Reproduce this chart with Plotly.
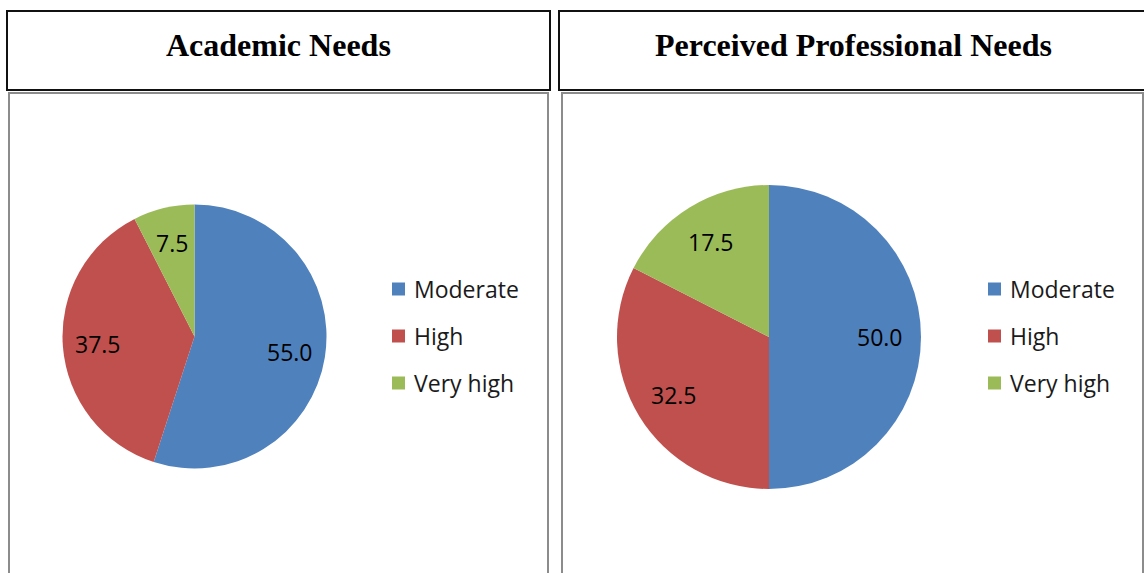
import math
import plotly.graph_objects as go

# Figure size in pixels
W, H = 1144, 573

# ---- data ----
categories = ["Moderate", "High", "Very high"]
academic_needs = [55.0, 37.5, 7.5]
professional_needs = [50.0, 32.5, 17.5]
panel_titles = ["Academic Needs", "Perceived Professional Needs"]
slice_colors = ["#4F81BD", "#C0504D", "#9BBB59"]


def px_x(x):
    return x / W


def px_y(y):
    return 1 - y / H


# Panel geometry (pixels): pie centre, radius, legend anchor
panels = [
    dict(values=academic_needs, title=panel_titles[0], cx=194.5, cy=336.5, r=132,
         title_box=(7, 11, 550, 90), chart_box=(9, 93, 548, 600),
         legend_x=392, legend_y=289),
    dict(values=professional_needs, title=panel_titles[1], cx=769, cy=337, r=152,
         title_box=(559, 11, 1160, 90), chart_box=(562, 93, 1143, 600),
         legend_x=988, legend_y=289),
]

LABEL_FONT = dict(family="Open Sans, Lato, sans-serif", size=23, color="#000000")
LEGEND_FONT = dict(family="Open Sans, Lato, sans-serif", size=23, color="#1a1a1a")
TITLE_FONT = dict(family="Liberation Serif, Times New Roman, serif", size=32, color="#000000")

fig = go.Figure()
shapes = []
annotations = []

for p in panels:
    # outer frames
    x0, y0, x1, y1 = p["chart_box"]
    shapes.append(dict(type="rect", xref="paper", yref="paper",
                       x0=px_x(x0), x1=px_x(x1), y0=px_y(y1), y1=px_y(y0),
                       line=dict(color="#8c8c8c", width=2), fillcolor="rgba(0,0,0,0)", layer="below"))
    x0, y0, x1, y1 = p["title_box"]
    shapes.append(dict(type="rect", xref="paper", yref="paper",
                       x0=px_x(x0), x1=px_x(x1), y0=px_y(y1), y1=px_y(y0),
                       line=dict(color="#111111", width=2), fillcolor="white", layer="below"))
    annotations.append(dict(text="<b>%s</b>" % p["title"], xref="paper", yref="paper",
                            x=px_x((x0 + min(x1, 1148)) / 2), y=px_y(45),
                            xanchor="center", yanchor="middle", showarrow=False,
                            font=TITLE_FONT))

    # pie
    cx, cy, r = p["cx"], p["cy"], p["r"]
    fig.add_trace(go.Pie(
        labels=categories, values=p["values"], sort=False, direction="clockwise",
        rotation=0, textinfo="none", hoverinfo="label+value",
        marker=dict(colors=slice_colors, line=dict(width=0)),
        domain=dict(x=[px_x(cx - r), px_x(cx + r)], y=[px_y(cy + r), px_y(cy - r)]),
        showlegend=False,
    ))

    # value labels placed at the middle angle of each slice
    total = sum(p["values"])
    start = 0.0
    for v in p["values"]:
        span = 360.0 * v / total
        mid = math.radians(start + span / 2)
        start += span
        lx = cx + 0.73 * r * math.sin(mid)
        ly = cy - 0.73 * r * math.cos(mid)
        annotations.append(dict(text="%.1f" % v, xref="paper", yref="paper",
                                x=px_x(lx), y=px_y(ly), xanchor="center", yanchor="middle",
                                showarrow=False, font=LABEL_FONT))

    # legend
    for i, (name, col) in enumerate(zip(categories, slice_colors)):
        ry = p["legend_y"] + 47 * i
        lx = p["legend_x"]
        shapes.append(dict(type="rect", xref="paper", yref="paper",
                           x0=px_x(lx), x1=px_x(lx + 13), y0=px_y(ry + 6.5), y1=px_y(ry - 6.5),
                           line=dict(width=0), fillcolor=col))
        annotations.append(dict(text=name, xref="paper", yref="paper",
                                x=px_x(lx + 20), y=px_y(ry), xanchor="left", yanchor="middle",
                                showarrow=False, font=LEGEND_FONT))

fig.update_layout(
    width=W, height=H,
    margin=dict(l=0, r=0, t=0, b=0),
    paper_bgcolor="white", plot_bgcolor="white",
    shapes=shapes, annotations=annotations,
)

fig.write_html("out.html", config=dict(displayModeBar=False))
